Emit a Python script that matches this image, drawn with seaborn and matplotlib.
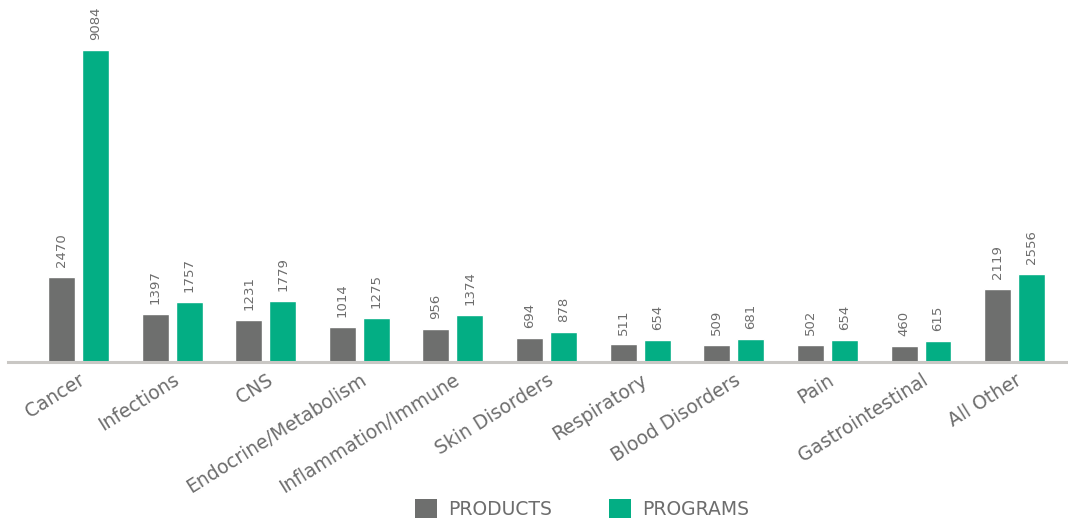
import matplotlib
matplotlib.use("Agg")
import matplotlib.pyplot as plt
from matplotlib.patches import Patch
import seaborn as sns
import pandas as pd

categories = ["Cancer", "Infections", "CNS", "Endocrine/Metabolism",
              "Inflammation/Immune", "Skin Disorders", "Respiratory",
              "Blood Disorders", "Pain", "Gastrointestinal", "All Other"]
products = [2470, 1397, 1231, 1014, 956, 694, 511, 509, 502, 460, 2119]
programs = [9084, 1757, 1779, 1275, 1374, 878, 654, 681, 654, 615, 2556]
series_names = ["PRODUCTS", "PROGRAMS"]

GREY = "#6e6f6e"
GREEN = "#03ae84"
TEXT = "#6d6d6d"

df = pd.DataFrame({
    "category": categories * 2,
    "series": [series_names[0]] * len(categories) + [series_names[1]] * len(categories),
    "value": products + programs,
})

sns.set_theme(style="white")
plt.rcParams["font.family"] = ["DejaVu Sans"]

fig = plt.figure(figsize=(10.68, 5.21), dpi=100)
ax = fig.add_axes([8 / 1068, 1 - 362 / 521, 1060 / 1068, 362 / 521])

sns.barplot(data=df, x="category", y="value", hue="series",
            palette=[GREY, GREEN], width=0.726, gap=0.207,
            saturation=1, ax=ax, legend=False)

# value labels above each bar
for container in ax.containers:
    ax.bar_label(container, labels=[f"{int(v)}" for v in container.datavalues],
                 rotation=90, padding=7, color=TEXT, fontsize=9.5,
                 family=["Liberation Sans Narrow", "DejaVu Sans"])

ax.set_xlim(-0.753, 10.57)
ax.set_ylim(0, 10540)
ax.set_xlabel("")
ax.set_ylabel("")
ax.set_yticks([])
for side in ["top", "right", "left"]:
    ax.spines[side].set_visible(False)
ax.spines["bottom"].set_color("#c9c7c4")
ax.spines["bottom"].set_linewidth(2.2)
ax.tick_params(axis="x", length=0, pad=6)
for lbl in ax.get_xticklabels():
    lbl.set_rotation(32)
    lbl.set_ha("right")
    lbl.set_rotation_mode("anchor")
    lbl.set_color(TEXT)
    lbl.set_fontsize(13.5)

handles = [Patch(facecolor=GREY, edgecolor="none"), Patch(facecolor=GREEN, edgecolor="none")]
fig.legend(handles, series_names, loc="lower center", bbox_to_anchor=(0.545, -0.028),
           ncol=2, frameon=False, fontsize=13.5, labelcolor=TEXT,
           handlelength=1.18, handleheight=1.18, handletextpad=0.6, columnspacing=3.0)

fig.savefig("out.png", dpi=100)
